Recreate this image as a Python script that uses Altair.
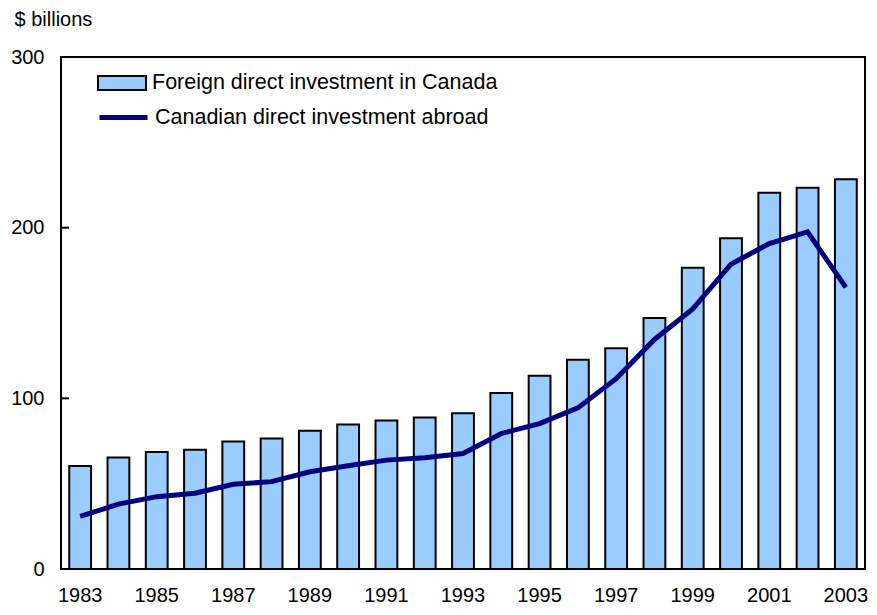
import altair as alt
import pandas as pd

years = list(range(1983, 2004))
fdi_canada = [60.3, 65.4, 68.5, 69.9, 74.7, 76.5, 81.0, 84.6, 87.0, 88.7, 91.2,
              103.1, 113.2, 122.6, 129.4, 147.1, 176.5, 193.8, 220.5, 223.4, 228.4]
cdia_abroad = [30.8, 38.0, 42.4, 44.4, 49.6, 51.2, 57.0, 60.5, 63.8, 65.2, 67.7,
               79.4, 85.2, 94.4, 111.5, 134.5, 152.4, 178.6, 190.7, 197.5, 165.0]
series_names = ["Foreign direct investment in Canada", "Canadian direct investment abroad"]
y_ticks = [0, 100, 200, 300]
x_label_years = years[::2]
inner_ticks = [100, 200]

df = pd.DataFrame({
    "year": years,
    "fdi": fdi_canada,
    "cdia": cdia_abroad,
    "s1": series_names[0],
    "s2": series_names[1],
})
ticks_df = pd.DataFrame({"v": inner_ticks})

FONT = "Liberation Sans"
AX_FS = 20
LEG_FS = 21.5

x = alt.X("year:O", title=None,
          scale=alt.Scale(paddingInner=0.43, paddingOuter=0.215),
          axis=alt.Axis(values=x_label_years, labelAngle=0, ticks=False, domain=False,
                        labelPadding=16, labelFontSize=AX_FS, labelFont=FONT,
                        labelColor="black"))

yscale = alt.Scale(domain=[0, 300], nice=False)

bars = alt.Chart(df).mark_bar(stroke="black", strokeWidth=2).encode(
    x=x,
    y=alt.Y("fdi:Q", scale=yscale, title="$ billions",
            axis=alt.Axis(values=y_ticks, grid=False, ticks=False, domain=False,
                          labelPadding=17, labelFontSize=AX_FS, labelFont=FONT,
                          labelColor="black",
                          titleAngle=0, titleAlign="left", titleBaseline="middle",
                          titleX=-47, titleY=-38, titleFontSize=AX_FS,
                          titleFont=FONT, titleFontWeight="normal",
                          titleColor="black")),
    fill=alt.Fill("s1:N", scale=alt.Scale(domain=[series_names[0]], range=["#99CCFF"]),
                  legend=alt.Legend(title=None, orient="none", legendX=36, legendY=1,
                                    symbolType="M-1,-0.29L1,-0.29L1,0.29L-1,0.29Z",
                                    symbolSize=2304, symbolStrokeColor="black",
                                    symbolStrokeWidth=2, symbolOpacity=1,
                                    labelFontSize=LEG_FS, labelFont=FONT, labelColor="black",
                                    labelOffset=5, labelLimit=0, padding=0)),
)

line = alt.Chart(df).mark_line(strokeWidth=5).encode(
    x=alt.X("year:O"),
    y=alt.Y("cdia:Q", scale=yscale),
    stroke=alt.Stroke("s2:N", scale=alt.Scale(domain=[series_names[1]], range=["#000080"]),
                      legend=alt.Legend(title=None, orient="none", legendX=36, legendY=34,
                                        symbolType="stroke", symbolSize=2304,
                                        symbolStrokeWidth=5,
                                        labelFontSize=LEG_FS, labelFont=FONT,
                                        labelColor="black", labelOffset=5,
                                        labelLimit=0, padding=0)),
)

tick_marks = alt.Chart(ticks_df).mark_rule(color="black", strokeWidth=2).encode(
    y=alt.Y("v:Q", scale=yscale),
    x=alt.value(0),
    x2=alt.value(8),
)

chart = alt.layer(bars, line, tick_marks).resolve_scale(
    fill="independent", stroke="independent"
).properties(
    width=804, height=512,
    autosize=alt.AutoSizeParams(type="none"),
    padding={"left": 53, "top": 49, "right": 4, "bottom": 38},
).configure_view(
    stroke="black", strokeWidth=2
)

chart.save("out.html", embed_options={"renderer": "svg", "actions": False})
